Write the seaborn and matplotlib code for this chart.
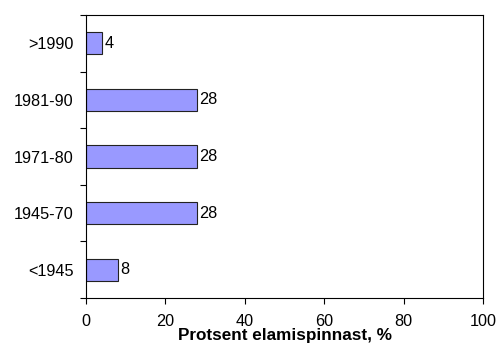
import matplotlib
matplotlib.use("Agg")
import matplotlib.pyplot as plt
import seaborn as sns
import pandas as pd
import numpy as np

periods = [">1990", "1981-90", "1971-80", "1945-70", "<1945"]
shares = [4, 28, 28, 28, 8]
x_ticks = [0, 20, 40, 60, 80, 100]
x_label = "Protsent elamispinnast, %"

sns.set_style("white")
plt.rcParams["font.family"] = ["Liberation Sans", "DejaVu Sans"]
plt.rcParams["text.color"] = "black"
plt.rcParams["axes.labelcolor"] = "black"
plt.rcParams["xtick.color"] = "black"
plt.rcParams["ytick.color"] = "black"

df = pd.DataFrame({"period": periods, "share": shares})

fig = plt.figure(figsize=(4.98, 3.45), dpi=100)
ax = fig.add_axes([0.1727, 0.1362, 0.7973, 0.8203])

sns.barplot(data=df, x="share", y="period", order=periods, orient="h",
            color="#9999ff", saturation=1, width=0.39,
            edgecolor="#222222", linewidth=0.8, ax=ax)

fs = 11.7
for i, v in enumerate(shares):
    ax.text(v + 0.6, i, f"{v}", va="center", ha="left", fontsize=fs, color="black")

ax.set_xlim(0, 100)
ax.set_ylim(len(periods) - 0.5, -0.5)
ax.set_xticks(x_ticks)
ax.set_xticklabels([str(t) for t in x_ticks], fontsize=fs)
ax.set_yticks(range(len(periods)))
ax.set_yticklabels(periods, fontsize=fs)
ax.set_yticks(np.arange(-0.5, len(periods), 1.0), minor=True)
ax.tick_params(axis="y", which="major", left=True, length=0, pad=9)
ax.tick_params(axis="y", which="minor", left=True, length=4, width=0.8,
               color="black", direction="out")
ax.tick_params(axis="x", which="major", bottom=True, length=4, width=0.8,
               color="black", direction="out", pad=7.5)
ax.set_ylabel("")
ax.set_xlabel(x_label, fontsize=12.3, fontweight="bold", labelpad=-1)

for side in ["left", "bottom", "top", "right"]:
    ax.spines[side].set_visible(True)
    ax.spines[side].set_color("black")
    ax.spines[side].set_linewidth(0.8)

fig.savefig("out.png", dpi=100)
